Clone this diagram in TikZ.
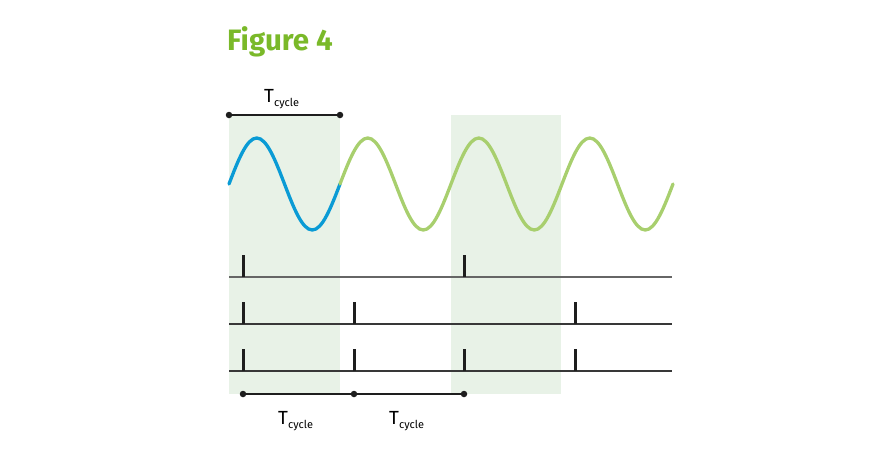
\documentclass[tikz,border=0pt]{standalone}
\usepackage{fontspec}
\setmainfont{Fira Sans}
\usepackage{tikz}

\definecolor{titlegreen}{HTML}{7AB929}
\definecolor{wavegreen}{HTML}{A8CF6E}
\definecolor{waveblue}{HTML}{0A9BD5}
\definecolor{cyclefill}{HTML}{E8F2E7}
\definecolor{pulsegray}{HTML}{1E1E1E}

\tikzset{
  wave/.style={line width=3.3pt, line cap=round},
  gridline/.style={line width=1.1pt, color=#1},
  pulse/.style={line width=3pt, pulsegray},
  span/.style={line width=1.4pt, pulsegray},
  spandot/.style={circle, fill=pulsegray, inner sep=0pt, minimum size=6.5pt},
  tlabel/.style={anchor=base west, inner sep=0pt, font=\fontsize{19}{19}\selectfont}
}

\newcommand{\tcyc}{T\raisebox{-4pt}{\fontsize{11}{11}\selectfont cycle}}

\begin{document}
\begin{tikzpicture}[x=1pt, y=-1pt]

    \useasboundingbox (0,0) rectangle (875,469);

    \node[anchor=base west, inner sep=0pt, text=titlegreen,
      font=\fontsize{29.5}{29.5}\selectfont\bfseries] (title) at (227,50) {Figure 4};

    \fill[cyclefill] (229,115) rectangle (340,394);

    \fill[cyclefill] (451,115) rectangle (561,394);

    \draw[wave, waveblue] (229,184) sin (256.75,138) cos (284.5,184) sin (312.25,230) cos (340,184);

    \draw[wave, wavegreen] (340,184) sin (367.75,138) cos (395.5,184) sin (423.25,230) cos (451,184)
      sin (478.75,138) cos (506.5,184) sin (534.25,230) cos (562,184)
      sin (589.75,138) cos (617.5,184) sin (645.25,230) cos (673,184);

    \begin{scope}[yshift=-277pt]

      \draw[gridline={black!60}] (229,0) -- (672,0);

      \foreach \x in {243,464}
        \draw[pulse] (\x,0) -- (\x,-22);

    \end{scope}

    \begin{scope}[yshift=-324pt]

      \draw[gridline={black!78}] (229,0) -- (672,0);

      \foreach \x in {243,354,575}
        \draw[pulse] (\x,0) -- (\x,-22);

    \end{scope}

    \begin{scope}[yshift=-371pt]

      \draw[gridline={black!78}] (229,0) -- (672,0);

      \foreach \x in {243,354,464,575}
        \draw[pulse] (\x,0) -- (\x,-22);

    \end{scope}

    \node[spandot] (ta) at (229,115) {};
    \node[spandot] (tb) at (340,115) {};
    \draw[span] (ta) -- (tb);
    \node[tlabel] (ttop) at (264,102) {\tcyc};

    \node[spandot] (ba) at (243,394) {};
    \node[spandot] (bb) at (354,394) {};
    \node[spandot] (bc) at (464,394) {};
    \draw[span] (ba) -- (bb) -- (bc);
    \node[tlabel] (tbota) at (278,424) {\tcyc};
    \node[tlabel] (tbotb) at (389,424) {\tcyc};

  \end{tikzpicture}
\end{document}
